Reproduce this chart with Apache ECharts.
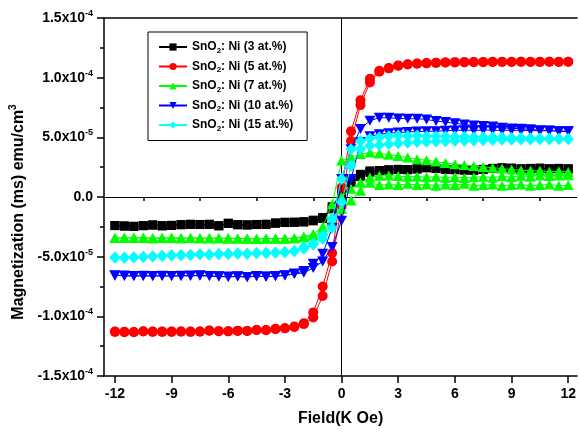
<!DOCTYPE html>
<html><head><meta charset="utf-8">
<script src="https://cdn.jsdelivr.net/npm/echarts@6/dist/echarts.min.js"></script>
<style>html,body{margin:0;padding:0;background:#fff}#c{width:579px;height:432px}</style>
</head><body><div id="c"></div>
<script>
// Field values (K Oe), shared by every branch
const field = [-12,-11.5,-11,-10.5,-10,-9.5,-9,-8.5,-8,-7.5,-7,-6.5,-6,-5.5,-5,-4.5,-4,-3.5,-3,-2.5,-2,-1.5,-1,-0.5,0,0.5,1,1.5,2,2.5,3,3.5,4,4.5,5,5.5,6,6.5,7,7.5,8,8.5,9,9.5,10,10.5,11,11.5,12];
const fieldVirgin = [0,0.5,1,1.5,2,2.5,3,3.5,4,4.5,5,5.5,6,6.5,7,7.5,8,8.5,9,9.5,10,10.5,11,11.5,12];

// Magnetization in units of 1e-5 emu/cm3 ; "Down" = branch swept 12 -> -12, "Up" = -12 -> 12 (both listed in field order)
const ni3Down = [-2.39,-2.44,-2.47,-2.39,-2.33,-2.42,-2.39,-2.31,-2.28,-2.31,-2.28,-2.42,-2.19,-2.33,-2.33,-2.31,-2.28,-2.17,-2.11,-2.11,-2.06,-1.94,-1.72,-0.81,0.4,1.5,1.9,2.19,2.22,2.28,2.3,2.3,2.35,2.47,2.38,2.3,2.3,2.25,2.25,2.3,2.4,2.45,2.4,2.35,2.4,2.42,2.35,2.4,2.35];
const ni3Up = [-2.4,-2.42,-2.45,-2.41,-2.36,-2.4,-2.37,-2.33,-2.3,-2.3,-2.3,-2.4,-2.22,-2.31,-2.35,-2.3,-2.3,-2.2,-2.14,-2.12,-2.1,-2.0,-1.8,-1.0,-0.25,1.2,1.72,2.06,2.2,2.26,2.32,2.28,2.36,2.44,2.4,2.32,2.28,2.27,2.24,2.32,2.38,2.43,2.42,2.36,2.38,2.4,2.37,2.38,2.36];

const ni5Down = [-11.28,-11.33,-11.33,-11.25,-11.3,-11.28,-11.3,-11.28,-11.28,-11.28,-11.19,-11.25,-11.25,-11.22,-11.22,-11.14,-11.17,-11.05,-11.0,-10.86,-10.58,-9.67,-7.5,-4.7,0.8,5.5,8.1,9.9,10.58,10.8,11.03,11.12,11.18,11.22,11.25,11.28,11.3,11.3,11.32,11.3,11.33,11.32,11.33,11.33,11.32,11.33,11.33,11.32,11.33];
const ni5Up = [-11.3,-11.3,-11.32,-11.27,-11.28,-11.3,-11.28,-11.27,-11.3,-11.27,-11.2,-11.24,-11.26,-11.2,-11.23,-11.15,-11.15,-11.08,-11.0,-10.9,-10.65,-10.1,-8.3,-5.4,-0.8,4.7,7.7,9.6,10.5,10.78,11.0,11.1,11.17,11.2,11.24,11.27,11.28,11.3,11.3,11.32,11.32,11.33,11.32,11.33,11.33,11.32,11.33,11.33,11.33];

const ni7Virgin = [0.0,0.7,1.22,1.64,1.78,1.8,1.75,1.7,1.72,1.65,1.7,1.62,1.68,1.6,1.65,1.7,1.62,1.75,1.65,1.78,1.7,1.8,1.75,1.8,1.82];
const ni7Down = [-3.44,-3.4,-3.44,-3.4,-3.44,-3.44,-3.4,-3.44,-3.44,-3.47,-3.44,-3.47,-3.44,-3.47,-3.5,-3.5,-3.47,-3.5,-3.47,-3.44,-3.3,-3.1,-2.5,-0.6,3.05,3.35,3.6,3.72,3.65,3.55,3.44,3.3,3.17,3.08,2.97,2.85,2.75,2.68,2.6,2.52,2.45,2.38,2.3,2.25,2.2,2.2,2.12,2.15,2.1];
const ni7Up = [-3.42,-3.44,-3.4,-3.44,-3.47,-3.42,-3.44,-3.47,-3.44,-3.44,-3.47,-3.44,-3.5,-3.47,-3.47,-3.52,-3.5,-3.47,-3.5,-3.47,-3.38,-3.25,-2.8,-1.9,-1.0,-0.3,0.53,1.2,1.0,1.05,1.0,1.1,1.0,1.05,0.95,1.05,1.0,1.1,0.95,1.0,1.05,0.95,1.0,1.05,0.95,1.0,1.05,0.95,1.0];

const ni10Down = [-6.56,-6.61,-6.61,-6.61,-6.61,-6.61,-6.61,-6.61,-6.61,-6.56,-6.61,-6.67,-6.67,-6.67,-6.72,-6.61,-6.69,-6.64,-6.56,-6.42,-6.2,-5.6,-4.75,-2.6,1.5,4.0,5.7,6.4,6.64,6.64,6.58,6.56,6.56,6.5,6.36,6.28,6.17,6.08,6.0,5.94,5.9,5.8,5.75,5.72,5.67,5.6,5.58,5.5,5.5];
const ni10Up = [-6.6,-6.58,-6.63,-6.6,-6.63,-6.6,-6.63,-6.6,-6.58,-6.6,-6.63,-6.65,-6.7,-6.65,-6.7,-6.64,-6.67,-6.62,-6.58,-6.45,-6.35,-5.95,-5.4,-4.2,-2.0,1.5,4.6,5.1,5.25,5.35,5.4,5.45,5.48,5.5,5.52,5.55,5.58,5.6,5.58,5.6,5.6,5.58,5.6,5.58,5.57,5.55,5.55,5.52,5.5];

const ni15Down = [-5.08,-5.08,-5.08,-5.03,-4.97,-4.92,-4.89,-4.89,-4.83,-4.81,-4.81,-4.78,-4.75,-4.75,-4.75,-4.72,-4.69,-4.67,-4.61,-4.53,-4.2,-3.9,-3.2,-1.8,1.5,4.0,4.7,4.9,5.0,5.1,5.15,5.12,5.15,5.1,5.1,5.08,5.05,5.05,5.0,5.0,5.0,4.98,4.95,4.95,4.92,4.9,4.9,4.88,4.86];
const ni15Up = [-5.06,-5.1,-5.05,-5.0,-4.98,-4.94,-4.9,-4.86,-4.85,-4.8,-4.83,-4.78,-4.77,-4.73,-4.76,-4.7,-4.7,-4.65,-4.62,-4.55,-4.33,-4.0,-3.5,-2.6,-0.45,2.6,4.0,4.3,4.35,4.45,4.5,4.55,4.6,4.62,4.65,4.68,4.7,4.72,4.74,4.76,4.78,4.8,4.8,4.82,4.82,4.83,4.84,4.85,4.86];

// Labels
const sampleLevels = ['3 at.%','5 at.%','7 at.%','10 at.%','15 at.%'];
const xTickValues = [-12,-9,-6,-3,0,3,6,9,12];
const xMinorValues = [-10.5,-7.5,-4.5,-1.5,1.5,4.5,7.5,10.5];
const yTickValues = [-15,-10,-5,0,5,10,15];
const yTickMantissa = ['-1.5x10','-1.0x10','-5.0x10','0.0','5.0x10','1.0x10','1.5x10'];
const yTickExponent = ['-4','-4','-5','','-5','-4','-4'];

const FONT = '"Liberation Sans", Arial, sans-serif';
const names = sampleLevels.map(l => 'SnO2: Ni (' + l + ')');

function loop(down, up, virgin) {
  const pts = [];
  if (virgin) for (let i = 0; i < virgin.length; i++) pts.push([fieldVirgin[i], virgin[i]]);
  for (let i = field.length - 1; i >= 0; i--) pts.push([field[i], down[i]]);
  for (let i = 0; i < field.length; i++) pts.push([field[i], up[i]]);
  return pts;
}

const styles = [
  {color:'#000000', symbol:'rect', size:9},
  {color:'#FF0000', symbol:'circle', size:10},
  {color:'#00FF00', symbol:'triangle', size:[11,10]},
  {color:'#0000FF', symbol:'path://M0,0 L10,0 L5,9 Z', size:[11,10]},
  {color:'#00FFFF', symbol:'diamond', size:[11,12]}
];
const datasets = [loop(ni3Down, ni3Up), loop(ni5Down, ni5Up), loop(ni7Down, ni7Up, ni7Virgin), loop(ni10Down, ni10Up), loop(ni15Down, ni15Up)];

const series = datasets.map((d, i) => ({
  name: names[i], type:'line', data:d,
  symbol: styles[i].symbol, symbolSize: styles[i].size,
  itemStyle:{color: styles[i].color}, lineStyle:{color: styles[i].color, width:1},
  xAxisIndex:0, yAxisIndex:0, z: 3 + i
}));
series[0].markLine = {
  silent:true, symbol:'none', label:{show:false}, animation:false,
  lineStyle:{color:'#000', width:1, type:'solid'},
  data:[{xAxis:0},{yAxis:0}]
};

const chart = echarts.init(document.getElementById('c'));
chart.setOption({
  animation:false,
  backgroundColor:'#fff',
  textStyle:{fontFamily:FONT},
  grid:{left:104, right:0, top:18, bottom:53, containLabel:false},
  legend:{
    orient:'vertical', left:148, top:32, padding:[9,14,8,10],
    itemWidth:28, itemHeight:9, itemGap:6,
    borderColor:'#000', borderWidth:1, backgroundColor:'#fff',
    data:names,
    formatter: n => '{a|SnO}{s|2}{a|: Ni (' + sampleLevels[names.indexOf(n)] + ')}',
    textStyle:{fontFamily:FONT, fontWeight:'bold', fontSize:12, color:'#000',
      rich:{a:{fontFamily:FONT, fontWeight:'bold', fontSize:12, color:'#000', lineHeight:15},
            s:{fontFamily:FONT, fontWeight:'bold', fontSize:8, color:'#000', lineHeight:15, verticalAlign:'bottom'}}}
  },
  xAxis:[
    {type:'value', min:-12.58, max:12.47, position:'bottom',
     axisLine:{show:true, onZero:false, lineStyle:{color:'#000', width:1.5}},
     axisTick:{show:true, inside:false, length:7, customValues:xTickValues, lineStyle:{color:'#000', width:1.5}},
     axisLabel:{show:true, customValues:xTickValues, margin:11, color:'#000', fontFamily:FONT, fontWeight:'bold', fontSize:14, formatter:v => String(v)},
     splitLine:{show:false},
     name:'Field(K Oe)', nameLocation:'middle', nameGap:35,
     nameTextStyle:{fontFamily:FONT, fontWeight:'bold', fontSize:16, color:'#000'}},
    {type:'value', min:-12.58, max:12.47, position:'bottom',
     axisLine:{show:false},
     axisTick:{show:true, inside:false, length:4, customValues:xMinorValues, lineStyle:{color:'#000', width:1.5}},
     axisLabel:{show:false}, splitLine:{show:false}},
    {type:'value', min:-12.58, max:12.47, position:'top',
     axisLine:{show:true, onZero:false, lineStyle:{color:'#000', width:1.5}},
     axisTick:{show:false}, axisLabel:{show:false}, splitLine:{show:false}}
  ],
  yAxis:{
    type:'value', min:-15, max:15, interval:5, position:'left',
    axisLine:{show:true, onZero:false, lineStyle:{color:'#000', width:1.5}},
    axisTick:{show:true, inside:false, length:7, lineStyle:{color:'#000', width:1.5}},
    minorTick:{show:true, splitNumber:2, length:4, lineStyle:{color:'#000', width:1.5}},
    splitLine:{show:false},
    axisLabel:{margin:11, color:'#000',
      formatter: v => { const i = yTickValues.indexOf(v); if (i < 0) return ''; return yTickExponent[i] ? '{m|' + yTickMantissa[i] + '}{e|' + yTickExponent[i] + '}' : '{m|' + yTickMantissa[i] + '}'; },
      rich:{m:{fontFamily:FONT, fontWeight:'bold', fontSize:14, color:'#000', lineHeight:18},
            e:{fontFamily:FONT, fontWeight:'bold', fontSize:9, color:'#000', lineHeight:18, verticalAlign:'top'}}},
    name:'{a|Magnetization (ms) emu/cm}{p|3}', nameLocation:'middle', nameRotate:90, nameGap:73,
    nameTextStyle:{padding:[0,30,0,0], rich:{a:{fontFamily:FONT, fontWeight:'bold', fontSize:16, color:'#000', lineHeight:20},
      p:{fontFamily:FONT, fontWeight:'bold', fontSize:10, color:'#000', lineHeight:20, verticalAlign:'top'}}}
  },
  series: series
});
</script></body></html>
